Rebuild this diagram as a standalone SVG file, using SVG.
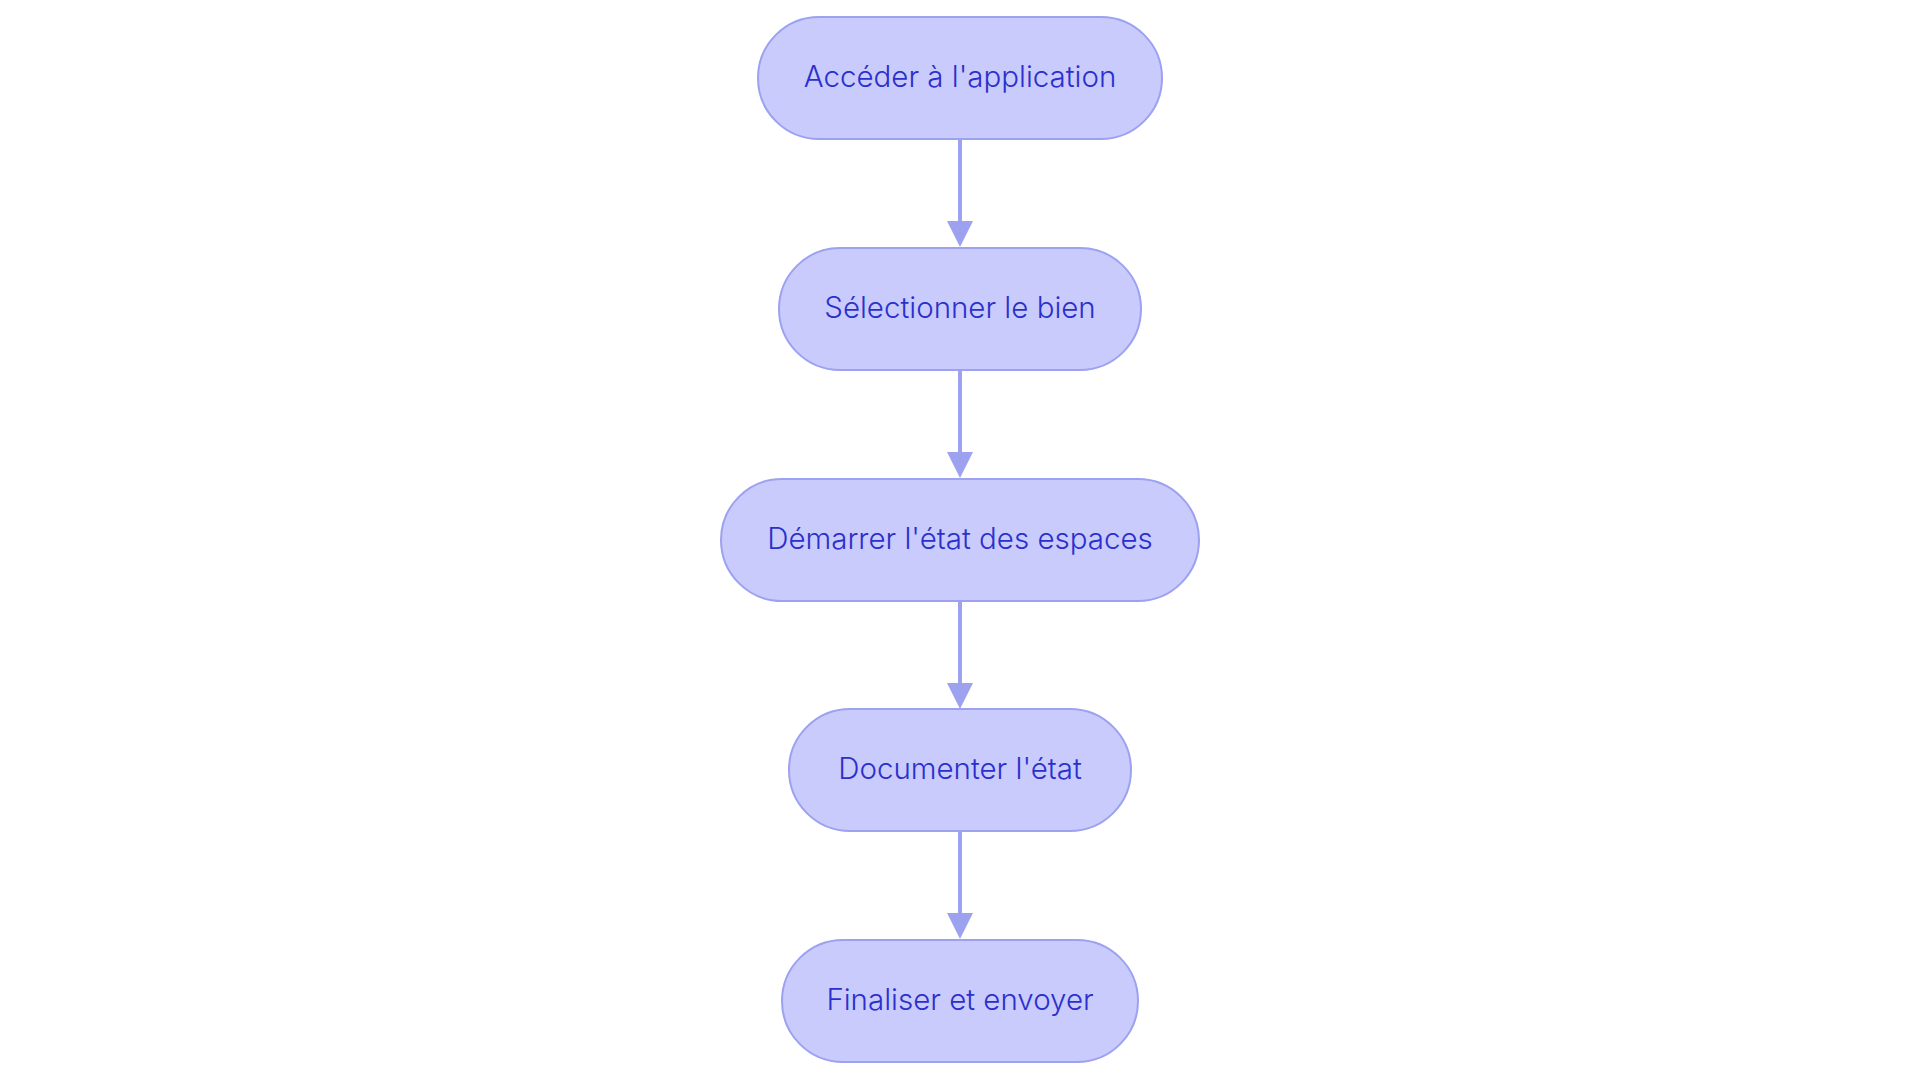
<svg xmlns="http://www.w3.org/2000/svg" width="1920" height="1083" viewBox="0 0 1920 1083">
<style>
.node rect{fill:#C9CBFC;stroke:#9CA1F0;stroke-width:2}
.node text{fill:#2B30CC;font-family:Inter,"Noto Sans",sans-serif;font-size:29.5px;font-weight:350;text-anchor:middle}
.edge{stroke:#9CA1F0;stroke-width:4;fill:none}
.head{fill:#9CA1F0}
</style>
<rect width="1920" height="1083" fill="#ffffff"/>
<g id="connectors">
<line class="edge" x1="960" y1="140" x2="960" y2="222"/>
<path class="head" d="M947,221 L973,221 L960,247 Z"/>
<line class="edge" x1="960" y1="371" x2="960" y2="453"/>
<path class="head" d="M947,452 L973,452 L960,478 Z"/>
<line class="edge" x1="960" y1="602" x2="960" y2="684"/>
<path class="head" d="M947,683 L973,683 L960,709 Z"/>
<line class="edge" x1="960" y1="832" x2="960" y2="914"/>
<path class="head" d="M947,913 L973,913 L960,939 Z"/>
</g>
<g id="n1" class="node"><rect x="758" y="17" width="404" height="122" rx="61"/><text x="960" y="87">Accéder à l'application</text></g>
<g id="n2" class="node"><rect x="779" y="248" width="362" height="122" rx="61"/><text x="960" y="318">Sélectionner le bien</text></g>
<g id="n3" class="node"><rect x="721" y="479" width="478" height="122" rx="61"/><text x="960" y="549">Démarrer l'état des espaces</text></g>
<g id="n4" class="node"><rect x="789" y="709" width="342" height="122" rx="61"/><text x="960" y="779">Documenter l'état</text></g>
<g id="n5" class="node"><rect x="782" y="940" width="356" height="122" rx="61"/><text x="960" y="1010">Finaliser et envoyer</text></g>
</svg>
